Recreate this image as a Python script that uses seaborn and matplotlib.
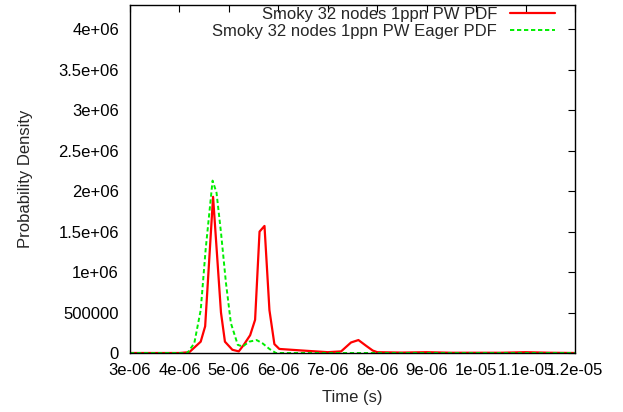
import matplotlib
matplotlib.use("Agg")
import matplotlib.pyplot as plt
import seaborn as sns
import pandas as pd

# Data (time in microseconds, density in millions)
red_t_us = [3.0, 4.0, 4.2, 4.43, 4.52, 4.68, 4.84, 4.92, 5.07, 5.2, 5.3, 5.43, 5.53,
            5.62, 5.72, 5.82, 5.92, 6.02, 6.5, 7.0, 7.27, 7.47, 7.62, 7.78, 7.91, 8.0,
            8.5, 9.0, 9.5, 10.5, 11.0, 11.5, 12.0]
red_d_m = [0, 0, 0.01, 0.14, 0.33, 1.93, 0.5, 0.14, 0.04, 0.02, 0.1, 0.22, 0.41,
           1.5, 1.57, 0.53, 0.11, 0.05, 0.03, 0.01, 0.02, 0.13, 0.16, 0.087, 0.03, 0.01,
           0.005, 0.01, 0.003, 0.003, 0.01, 0.003, 0]
green_t_us = [3.0, 4.16, 4.3, 4.43, 4.53, 4.67, 4.75, 4.84, 4.94, 5.04, 5.18, 5.28,
              5.41, 5.56, 5.68, 5.82, 5.95, 12.0]
green_d_m = [0, 0, 0.12, 0.53, 1.28, 2.13, 1.98, 1.49, 0.87, 0.37, 0.1, 0.08,
             0.14, 0.16, 0.12, 0.05, 0, 0]

series_labels = ["Smoky 32 nodes 1ppn PW PDF", "Smoky 32 nodes 1ppn PW Eager PDF"]
x_ticks = [3e-06, 4e-06, 5e-06, 6e-06, 7e-06, 8e-06, 9e-06, 1e-05, 1.1e-05, 1.2e-05]
x_tick_labels = ["3e-06", "4e-06", "5e-06", "6e-06", "7e-06", "8e-06", "9e-06",
                 "1e-05", "1.1e-05", "1.2e-05"]
y_ticks = [0, 500000, 1000000, 1500000, 2000000, 2500000, 3000000, 3500000, 4000000]
y_tick_labels = ["0", "500000", "1e+06", "1.5e+06", "2e+06", "2.5e+06", "3e+06",
                 "3.5e+06", "4e+06"]

sns.set_style("white")
plt.rcParams["font.family"] = ["Liberation Sans", "DejaVu Sans"]
FS = 12
plt.rcParams["font.size"] = FS

red_df = pd.DataFrame({"t": [v * 1e-6 for v in red_t_us], "d": [v * 1e6 for v in red_d_m]})
green_df = pd.DataFrame({"t": [v * 1e-6 for v in green_t_us], "d": [v * 1e6 for v in green_d_m]})

fig = plt.figure(figsize=(6.23, 4.12), dpi=100)
ax = fig.add_axes([130 / 623, 1 - 353 / 412, (575 - 130) / 623, (353 - 5) / 412])

sns.lineplot(data=red_df, x="t", y="d", ax=ax, color="#ff0000", linewidth=1.6,
             sort=False, estimator=None, label=series_labels[0])
sns.lineplot(data=green_df, x="t", y="d", ax=ax, color="#00ee00", linewidth=1.4,
             sort=False, estimator=None, label=series_labels[1])
ax.lines[1].set_dashes([2.2, 1.4])

ax.set_xlim(3e-06, 1.2e-05)
ax.set_ylim(0, 4.3e6)
ax.set_xticks(x_ticks)
ax.set_xticklabels(x_tick_labels)
ax.set_yticks(y_ticks)
ax.set_yticklabels(y_tick_labels)
ax.tick_params(direction="in", length=5, width=0.8, top=True, right=True,
               labelsize=FS, colors="black")
ax.tick_params(axis="x", pad=7)
ax.tick_params(axis="y", pad=8)
for s in ax.spines.values():
    s.set_color("black")
    s.set_linewidth(1.0)

ax.set_xlabel("Time (s)", fontsize=FS, labelpad=9)
ax.set_ylabel("Probability Density", fontsize=FS, labelpad=18)

leg = ax.legend(loc="upper right", bbox_to_anchor=(1 - 20 / 445, 1 - 2 / 348),
                markerfirst=False, frameon=False, fontsize=FS,
                handlelength=2.7, handletextpad=0.78, labelspacing=0.1,
                borderaxespad=0, borderpad=0)
for t in leg.get_texts():
    t.set_ha("right")
leg._legend_box.align = "right"

fig.savefig("out.png", dpi=100)
